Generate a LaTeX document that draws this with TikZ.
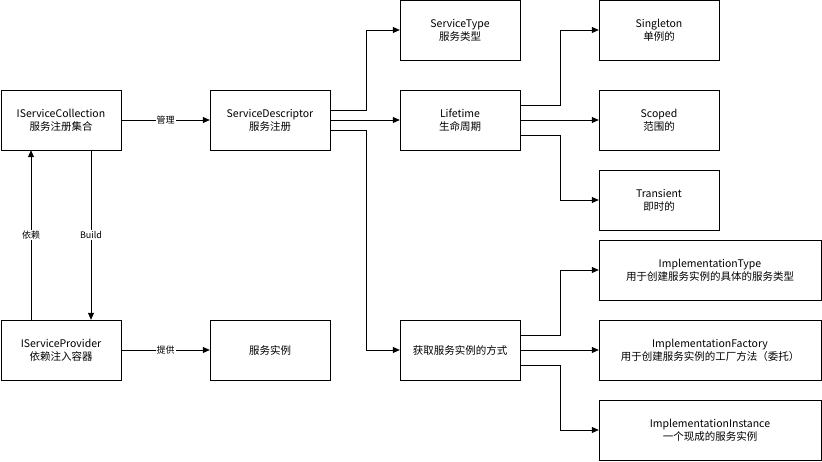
\documentclass[tikz,border=0pt]{standalone}
\usepackage{fontspec}
\setmainfont{Noto Sans CJK SC}
\usetikzlibrary{arrows.meta}
\tikzset{
  box/.style={draw, fill=white, minimum width=120pt, minimum height=60pt, align=center, font=\fontsize{10.5}{13}\selectfont},
  widebox/.style={box, minimum width=222pt},
  conn/.style={-{Triangle[length=7pt,width=6pt]}, line width=0.8pt},
  lbl/.style={fill=white, inner sep=1pt, font=\fontsize{9}{11}\selectfont}
}
\begin{document}
\begin{tikzpicture}[x=1pt,y=-1pt]
  \useasboundingbox (0,0) rectangle (822,462);
  % Define the nodes in the picture
  \node (coll) [box] at (61,120) {IServiceCollection\\服务注册集合};
  \node (desc) [box] at (270,120) {ServiceDescriptor\\服务注册};
  \node (stype) [box] at (460,30) {ServiceType\\服务类型};
  \node (life) [box] at (460,120) {Lifetime\\生命周期};
  \node (single) [box] at (659,30) {Singleton\\单例的};
  \node (scoped) [box] at (659,120) {Scoped\\范围的};
  \node (trans) [box] at (659,200) {Transient\\即时的};
  \node (way) [box] at (460,350) {获取服务实例的方式};
  \node (itype) [widebox] at (710,270) {ImplementationType\\用于创建服务实例的具体的服务类型};
  \node (ifact) [widebox] at (710,350) {ImplementationFactory\\用于创建服务实例的工厂方法（委托）};
  \node (iinst) [widebox] at (710,430) {ImplementationInstance\\一个现成的服务实例};
  \node (prov) [box] at (61,350) {IServiceProvider\\依赖注入容器};
  \node (inst) [box] at (270,350) {服务实例};

  % Define the edges in the picture
  \draw [conn] (coll) -- node[lbl]{管理} (desc);
  \draw [conn] (prov) -- node[lbl]{提供} (inst);
  \draw [conn] ([xshift=30pt]coll.south) -- node[lbl]{Build} ([xshift=30pt]prov.north);
  \draw [conn] ([xshift=-30pt]prov.north) -- node[lbl]{依赖} ([xshift=-30pt]coll.south);
  \draw [conn] ([yshift=10pt]desc.east) -| (366,30) -- (stype);
  \draw [conn] (desc) -- (life);
  \draw [conn] ([yshift=-10pt]desc.east) -| (366,350) -- (way);
  \draw [conn] ([yshift=15pt]life.east) -| (560,30) -- (single);
  \draw [conn] (life) -- (scoped);
  \draw [conn] ([yshift=-15pt]life.east) -| (560,200) -- (trans);
  \draw [conn] ([yshift=15pt]way.east) -| (560,270) -- (itype);
  \draw [conn] (way) -- (ifact);
  \draw [conn] ([yshift=-15pt]way.east) -| (560,430) -- (iinst);
\end{tikzpicture}
\end{document}
